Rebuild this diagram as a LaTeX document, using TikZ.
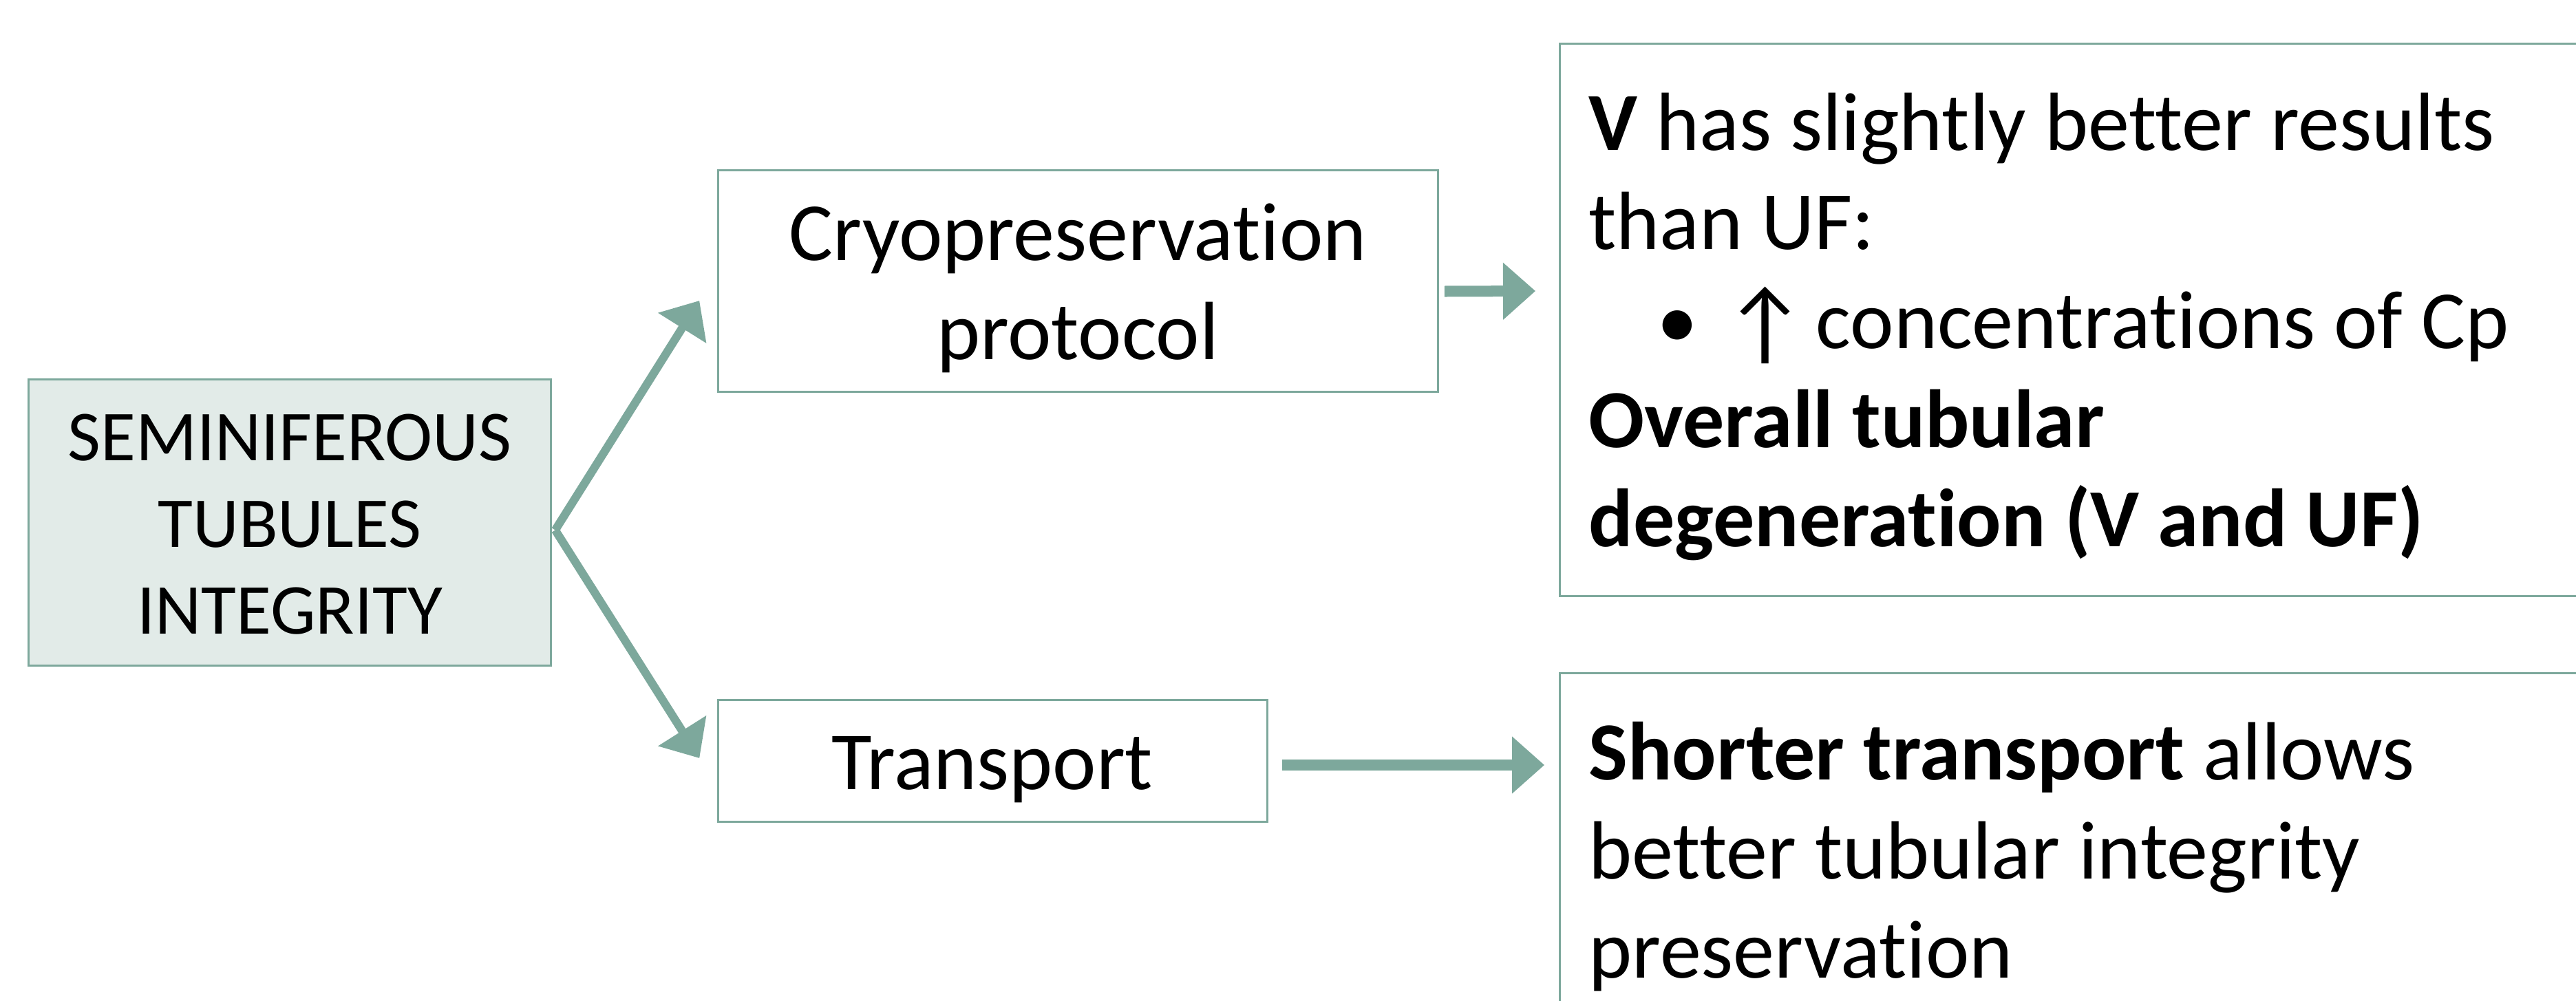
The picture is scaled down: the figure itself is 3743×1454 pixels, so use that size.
\documentclass[tikz,border=0pt]{standalone}
\usepackage{fontspec}
\setmainfont{Carlito}[Ligatures=NoCommon]
\newfontfamily\symfont{Carlito}
\usetikzlibrary{arrows.meta}
\definecolor{tealline}{RGB}{125,168,156}
\definecolor{tealfill}{RGB}{226,235,232}
\tikzset{
  box/.style={draw=tealline, line width=0.03cm, rectangle, inner sep=0pt},
  arr/.style={draw=tealline, line width=0.12cm, -{Triangle[length=0.47cm,width=0.8cm]}},
  harr/.style={arr, line width=0.16cm},
  big/.style={font=\fontsize{34.14pt}{40.97pt}\selectfont},
  txt/.style={inner sep=0pt, anchor=base},
  ltxt/.style={inner sep=0pt, anchor=base west},
}
\begin{document}
\begin{tikzpicture}[x=0.01cm,y=-0.01cm]
\clip (0,0) rectangle (3743,1454);
\fill[white] (0,0) rectangle (3743,1454);

% boxes
\node[box, fill=tealfill, minimum width=7.58cm, minimum height=4.15cm] (semi) at (421,759.5) {};
\node[box, minimum width=10.45cm, minimum height=3.21cm] (cryo) at (1566.5,408.5) {};
\node[box, minimum width=7.97cm, minimum height=1.76cm] (transp) at (1442.5,1106) {};
\node[box, minimum width=15.33cm, minimum height=8.02cm] (res1) at (3033.5,465) {};
\node[box, minimum width=15.33cm, minimum height=5.21cm] (res2) at (3033.5,1239.5) {};

% texts
\node[txt, font=\fontsize{29.6pt}{35.85pt}\selectfont] (semitext) at (421,669)
  {\parbox[t]{7cm}{\centering SEMINIFEROUS\\TUBULES\\INTEGRITY}};
\node[txt, big] (cryotext) at (1566,378)
  {\parbox[t]{10cm}{\centering Cryopreservation\\protocol}};
\node[txt, big] (transptext) at (1442,1147) {Transport};
\node[ltxt, big] (res1text) at (2308,218)
  {\parbox[t]{14.5cm}{\raggedright \textbf{V} has slightly better results\\
   than UF:\\
   \leavevmode\rlap{\hspace*{0.99cm}•}\rlap{\hspace*{1.96cm}\raisebox{-0.08cm}{\symfont\fontsize{38pt}{44pt}\selectfont ↑}}\hspace*{3.30cm}concentrations of Cp\\
   \textbf{Overall tubular}\\
   \textbf{degeneration (V and UF)}}};
\node[ltxt, big] (res2text) at (2308,1133)
  {\parbox[t]{14.5cm}{\raggedright \textbf{Shorter transport} allows\\
   better tubular integrity\\
   preservation}};

% connectors
\coordinate (j) at ([shift={(5,11)}]semi.east);
\coordinate (upTip) at ([shift={(-26,28.5)}]cryo.west);
\coordinate (dnTip) at ([shift={(-26,-4)}]transp.west);
\draw[arr] (j) -- (upTip);
\draw[arr] (j) -- (dnTip);

\coordinate (c1) at ([shift={(8,15)}]cryo.east);
\coordinate (c1tip) at ([shift={(-34,-42)}]res1.west);
\draw[harr] (c1) -- (c1tip);

\coordinate (t1) at ([shift={(20,6)}]transp.east);
\coordinate (t1tip) at ([shift={(-21,-127.5)}]res2.west);
\draw[harr] (t1) -- (t1tip);
\end{tikzpicture}
\end{document}
